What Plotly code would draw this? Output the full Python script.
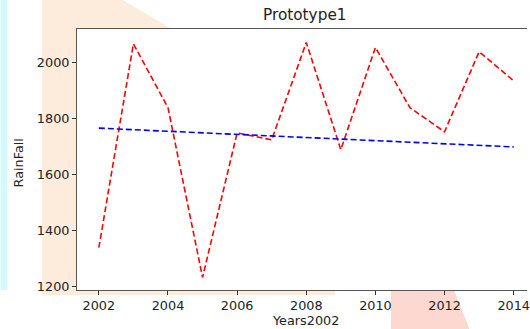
import plotly.graph_objects as go

years = [2002, 2003, 2004, 2005, 2006, 2007, 2008, 2009, 2010, 2011, 2012, 2013, 2014]
rainfall = [1340, 2068, 1840, 1234, 1750, 1725, 2073, 1690, 2055, 1840, 1754, 2040, 1936]
trend_years = [2002, 2014]
trend_values = [1767, 1700]
x_ticks = [2002, 2004, 2006, 2008, 2010, 2012, 2014]
y_ticks = [1200, 1400, 1600, 1800, 2000]

W, H = 530, 329
L, R, T, B = 77, 0, 29, 39
PW, PH = W - L - R, H - T - B


def px(x):
    return (x - L) / PW


def py(y):
    return (H - B - y) / PH


def path(points):
    return "M " + " L ".join(f"{px(a):.5f},{py(b):.5f}" for a, b in points) + " Z"


font = dict(family="DejaVu Sans", size=12.8, color="#222222")

fig = go.Figure()
fig.add_trace(go.Scatter(x=years, y=rainfall, mode="lines",
                         line=dict(color="#ff0000", width=1.6, dash="6px,3px")))
fig.add_trace(go.Scatter(x=trend_years, y=trend_values, mode="lines",
                         line=dict(color="#0000ff", width=1.6, dash="6px,3px")))

shapes = [
    dict(type="path", xref="paper", yref="paper", layer="below", line=dict(width=0),
         fillcolor="#fdebdb",
         path=path([(42, 0), (123, 0), (172, 29), (77, 29), (77, 290), (337, 290),
                    (337, 295), (42, 295)])),
    dict(type="path", xref="paper", yref="paper", layer="below", line=dict(width=0),
         fillcolor="#d2fafd",
         path=path([(0, 0), (7, 0), (7, 290), (0, 290)])),
    dict(type="path", xref="paper", yref="paper", layer="below", line=dict(width=0),
         fillcolor="#fdd8d0",
         path=path([(393, 291), (457, 291), (472, 329), (393, 329)])),
]

fig.update_layout(
    width=W, height=H, margin=dict(l=L, r=R, t=T, b=B),
    paper_bgcolor="white", plot_bgcolor="white", showlegend=False,
    font=font, shapes=shapes,
    annotations=[
        dict(text="Prototype1", xref="paper", yref="paper", x=px(307), y=py(15),
             xanchor="center", yanchor="middle", showarrow=False,
             font=dict(family="DejaVu Sans", size=15.3, color="#222222")),
        dict(text="Years2002", xref="paper", yref="paper", x=px(307), y=py(320),
             xanchor="center", yanchor="middle", showarrow=False, font=font),
        dict(text="RainFall", xref="paper", yref="paper", x=px(18), y=py(163),
             xanchor="center", yanchor="middle", showarrow=False, textangle=-90, font=font),
    ],
)
fig.update_xaxes(range=[2001.368, 2014.385], tickvals=x_ticks, ticks="outside", ticklen=4,
                 tickcolor="#333333", showgrid=False, zeroline=False, showline=True,
                 linecolor="#555555", linewidth=1, mirror=True, tickfont=font,
                 ticklabeloverflow="allow")
fig.update_yaxes(range=[1189, 2121], tickvals=y_ticks, ticks="outside", ticklen=4,
                 tickcolor="#333333", showgrid=False, zeroline=False, showline=True,
                 linecolor="#555555", linewidth=1, tickfont=font)

fig.write_html("out.html", config={"displayModeBar": False},
               post_script="document.body.style.margin='0px';document.body.style.overflow='hidden';")
